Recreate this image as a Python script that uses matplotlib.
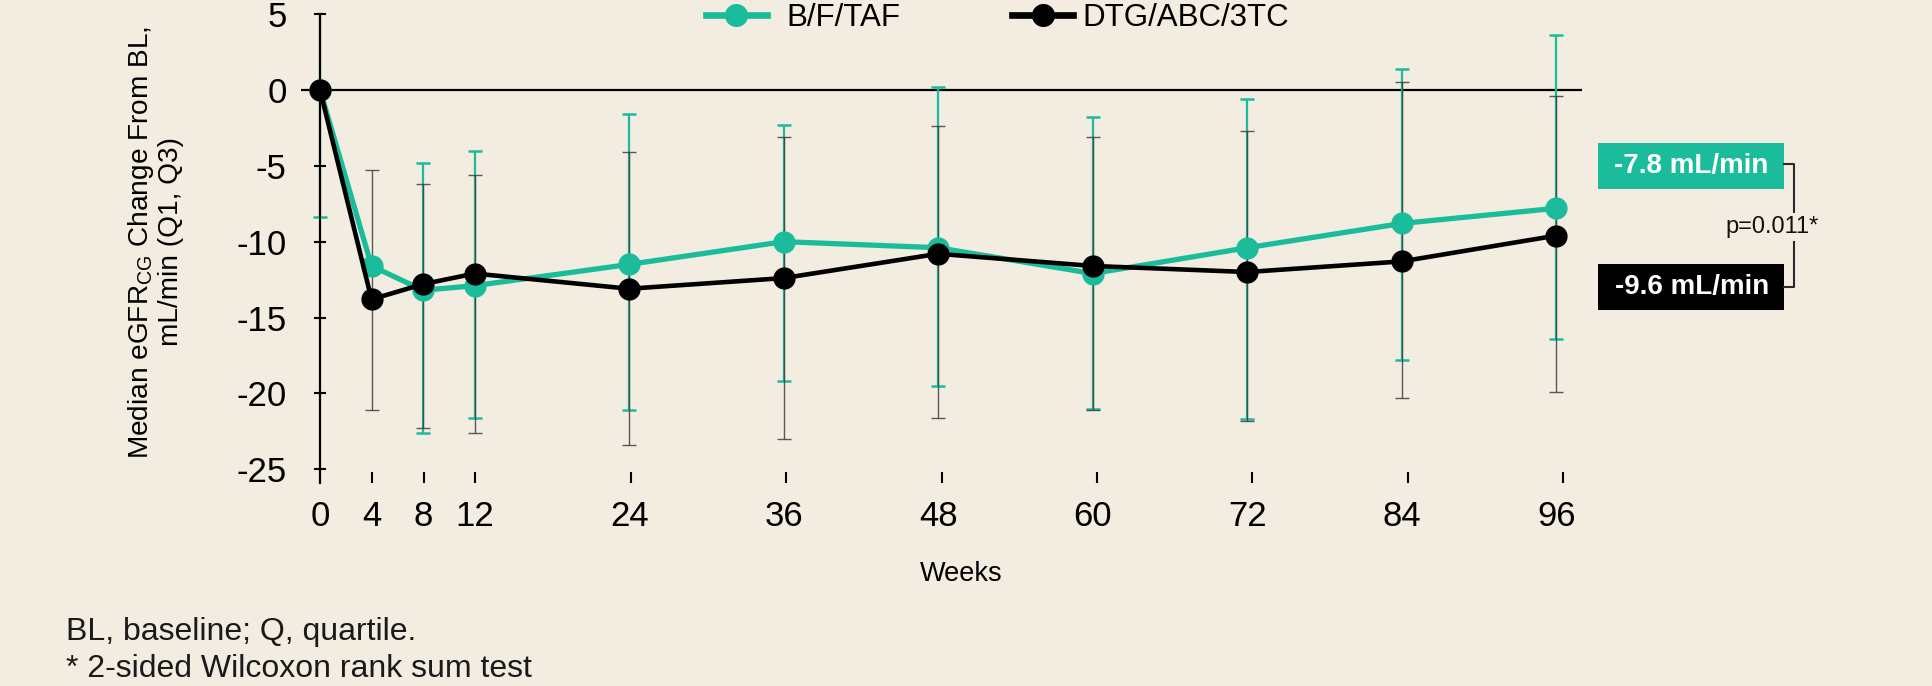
import numpy as np
import matplotlib
matplotlib.use("Agg")
import matplotlib.pyplot as plt
from matplotlib.lines import Line2D
from matplotlib.patches import Rectangle

plt.rcParams['font.family'] = ['Liberation Sans', 'DejaVu Sans']

# ---- data -------------------------------------------------------------
weeks = [0, 4, 8, 12, 24, 36, 48, 60, 72, 84, 96]

bft_median = [0.0, -11.6, -13.2, -12.9, -11.5, -10.0, -10.4, -12.1, -10.4, -8.8, -7.8]
bft_q1 = [-8.4, np.nan, -22.6, -21.6, -21.1, -19.2, -19.5, -21.0, -21.7, -17.8, -16.4]
bft_q3 = [5.5, np.nan, -4.8, -4.0, -1.6, -2.3, 0.2, -1.8, -0.6, 1.4, 3.6]

dtg_median = [0.0, -13.8, -12.8, -12.1, -13.1, -12.4, -10.8, -11.6, -12.0, -11.3, -9.6]
dtg_q1 = [np.nan, -21.1, -22.3, -22.6, -23.4, -23.0, -21.6, -21.1, -21.8, -20.3, -19.9]
dtg_q3 = [np.nan, -5.3, -6.2, -5.6, -4.1, -3.1, -2.4, -3.1, -2.7, 0.5, -0.4]

series_names = ["B/F/TAF", "DTG/ABC/3TC"]
p_value_text = "p=0.011*"
y_ticks = [5, 0, -5, -10, -15, -20, -25]

# ---- style ------------------------------------------------------------
BG = "#F3ECE0"
TEAL = "#1ABC9C"
BLACK = "#000000"
W, H = 1932, 686

fig = plt.figure(figsize=(W / 100, H / 100), dpi=100, facecolor=BG)
ax_left, ax_right = 300.7, 1582.0
ax_top, ax_bottom = 14.0, 483.0
ax = fig.add_axes([ax_left / W, 1 - ax_bottom / H,
                   (ax_right - ax_left) / W, (ax_bottom - ax_top) / H])
ax.set_facecolor(BG)

x = np.array(weeks, dtype=float)


def yerr(med, q1, q3):
    med, q1, q3 = map(np.asarray, (med, q1, q3))
    return np.vstack([med - q1, q3 - med])


# interquartile ranges
ax.errorbar(x, bft_median, yerr=yerr(bft_median, bft_q1, bft_q3), fmt="none",
            ecolor=TEAL, elinewidth=1.6, capsize=5, capthick=1.8, zorder=2)
ax.errorbar(x, dtg_median, yerr=yerr(dtg_median, dtg_q1, dtg_q3), fmt="none",
            ecolor="#3f3f3f", elinewidth=1.0, capsize=5, capthick=1.0,
            alpha=0.85, zorder=3)

# zero reference
ax.axhline(0, color=BLACK, lw=1.6, zorder=1)

# medians
ax.plot(x, bft_median, color=TEAL, lw=3.8, marker="o", ms=15,
        zorder=4, clip_on=False)
ax.plot(x, dtg_median, color=BLACK, lw=3.3, marker="o", ms=15,
        zorder=5, clip_on=False)

ax.set_xlim(-1.5, 98.0)
ax.set_ylim(-25.9, 5)

# week labels sit under the data; the tick marks are spaced a touch wider
ax.set_xticks(weeks)
ax.set_xticks([w * 1.0055 for w in weeks], minor=True)
ax.set_yticks(y_ticks)
ax.set_yticklabels([str(v) for v in y_ticks])

for side in ("top", "right", "bottom"):
    ax.spines[side].set_visible(False)
ax.spines["left"].set_position(("data", 0))
ax.spines["left"].set_linewidth(1.6)
ax.spines["left"].set_bounds(-25.9, 5)

ax.tick_params(axis="y", direction="inout", length=9, width=1.5,
               labelsize=25, pad=19.5)
ax.tick_params(axis="x", which="major", direction="in", length=8, width=0,
               labelsize=25, pad=12)
ax.tick_params(axis="x", which="minor", direction="in", length=8, width=1.5,
               labelbottom=False)

# axis titles
fig.text(961.5 / W, 1 - 574 / H, "Weeks", fontsize=19.5, ha="center", va="center")
fig.text(155 / W, 1 - 242 / H,
         "Median eGFR$_{\\mathregular{CG}}$ Change From BL,\nmL/min (Q1, Q3)",
         fontsize=20.2, rotation=90, ha="center", va="center",
         multialignment="center", linespacing=1.15)

# legend, one entry per block
legend_x = [706, 1012.5]
legend_pad = [0.62, 0.28]
legend_colors = [TEAL, BLACK]
for name, lx, pad, color in zip(series_names, legend_x, legend_pad, legend_colors):
    leg = fig.legend([Line2D([], [], color=color, lw=4.8, marker="o", ms=15.6)],
                     [name], loc="center left",
                     bbox_to_anchor=(lx / W, 1 - 18 / H), frameon=False,
                     fontsize=22.5, handlelength=1.95, handletextpad=pad,
                     borderpad=0, borderaxespad=0)

# week-96 value boxes
box_x0, box_x1 = 1598.3, 1784.0
boxes = [(143.3, 188.7, TEAL, bft_median[-1]),
         (264.3, 310.0, BLACK, dtg_median[-1])]
for top, bottom, color, val in boxes:
    fig.patches.append(Rectangle((box_x0 / W, 1 - bottom / H),
                                 (box_x1 - box_x0) / W, (bottom - top) / H,
                                 transform=fig.transFigure, facecolor=color,
                                 edgecolor="none"))
    fig.text((box_x0 + box_x1) / 2 / W + 0.5 / W, 1 - (top + bottom) / 2 / H,
             f"{val:.1f} mL/min", color="white", fontsize=20,
             fontweight="bold", ha="center", va="center")

# comparison bracket
bx = 1794.0
y_a, y_b = 164.3, 286.7
fig.add_artist(Line2D([box_x1 / W, bx / W, bx / W, box_x1 / W],
                      [1 - y_a / H, 1 - y_a / H, 1 - y_b / H, 1 - y_b / H],
                      transform=fig.transFigure, color="#2a2a2a", lw=1.5))
fig.text(1772 / W, 1 - 226.7 / H, p_value_text, fontsize=17,
         ha="center", va="center", color="#111111",
         bbox=dict(facecolor=BG, edgecolor="none", pad=2))

# footnotes
fig.text(66 / W, 1 - 640 / H, "BL, baseline; Q, quartile.", fontsize=23,
         ha="left", va="baseline", color="#1a1a1a")
fig.text(66 / W, 1 - 677 / H, "* 2-sided Wilcoxon rank sum test", fontsize=23,
         ha="left", va="baseline", color="#1a1a1a")

fig.savefig("out.png", dpi=100, facecolor=BG)
